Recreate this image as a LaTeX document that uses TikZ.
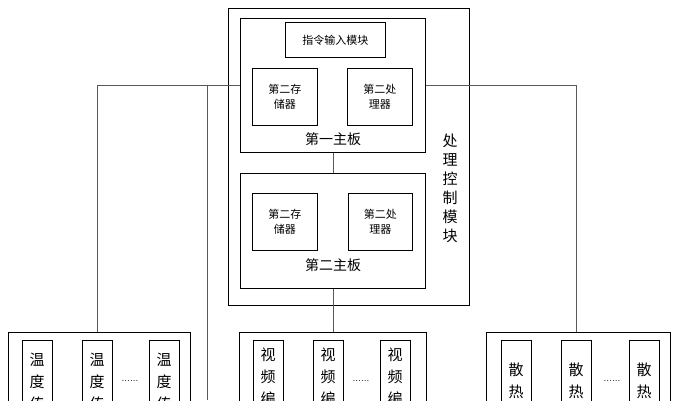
\documentclass[tikz,border=0pt]{standalone}
\usepackage{fontspec}
\newfontfamily\cjk{Noto Sans CJK SC}
\usetikzlibrary{positioning}
\begin{document}
\begin{tikzpicture}[x=1pt,y=-1pt,font=\cjk,
    unit/.style={draw,thick,inner sep=0pt,anchor=north west},
    frame/.style={draw,thick,anchor=north west},
    link/.style={draw,gray!70!black,line width=0.5pt}]
    \useasboundingbox (0,0) rectangle (673,400);
    \clip (0,0) rectangle (673,400);
    % Processing control module
    \node (ctrl)[frame,minimum width=241pt,minimum height=297pt] at (228,8) {};
    \node (boardA)[frame,minimum width=185pt,minimum height=134pt] at (240,18) {};
    \node (boardB)[frame,minimum width=185pt,minimum height=115pt] at (240,173) {};
    \node (cmd)[unit,minimum width=100pt,minimum height=35pt,font=\cjk\fontsize{11}{13}\selectfont] at (285,22) {指令输入模块};
    \node (memA)[unit,minimum width=65pt,minimum height=57pt,align=center,font=\cjk\fontsize{11}{15}\selectfont] at (252,68) {第二存\\储器};
    \node (cpuA)[unit,minimum width=65pt,minimum height=57pt,align=center,font=\cjk\fontsize{11}{15}\selectfont] at (347,68) {第二处\\理器};
    \node (memB)[unit,minimum width=65pt,minimum height=57pt,align=center,font=\cjk\fontsize{11}{15}\selectfont] at (252,193) {第二存\\储器};
    \node (cpuB)[unit,minimum width=64pt,minimum height=57pt,align=center,font=\cjk\fontsize{11}{15}\selectfont] at (348,193) {第二处\\理器};
    \node (nameA)[font=\cjk\fontsize{14}{16}\selectfont] at (333,139) {第一主板};
    \node (nameB)[font=\cjk\fontsize{14}{16}\selectfont] at (333,265) {第二主板};
    \node (ctrlname)[align=center,font=\cjk\fontsize{15}{19}\selectfont] at (450,188) {处\\理\\控\\制\\模\\块};

    % Peripheral groups
    \node (tempgrp)[frame,minimum width=182pt,minimum height=120pt] at (8,332) {};
    \node (videogrp)[frame,minimum width=187pt,minimum height=120pt] at (239,332) {};
    \node (fangrp)[frame,minimum width=184pt,minimum height=120pt] at (486,332) {};
    \foreach \x [count=\i] in {22,82,149,253,313,380,501,561,629}
        \node (dev\i)[unit,minimum width=30pt,minimum height=110pt] at (\x,340) {};
    \foreach \x in {37,97,164}
        \node[anchor=north,align=center,font=\cjk\fontsize{15}{22}\selectfont] at (\x,350) {温\\度\\传};
    \foreach \x in {268,328,395}
        \node[anchor=north,align=center,font=\cjk\fontsize{15}{22}\selectfont] at (\x,344) {视\\频\\编};
    \foreach \x in {516,576,644}
        \node[anchor=north,align=center,font=\cjk\fontsize{15}{22}\selectfont] at (\x,350) {\\散\\热};
    \foreach \x in {130,361,612}
        \node[font=\fontsize{10}{12}\selectfont] at (\x,381) {......};

    % Connections
    \coordinate (left) at (97,85);
    \coordinate (right) at (576,85);
    \coordinate (mid) at (207,85);
    \draw[link] (boardA.west |- left) -- (left) -- (left |- tempgrp.north);
    \draw[link] (boardA.east |- right) -- (right) -- (right |- fangrp.north);
    \draw[link] (mid) -- (207,400);
    \draw[link] (boardA.south) -- (boardB.north);
    \draw[link] (boardB.south) -- (videogrp.north -| boardB.south);
\end{tikzpicture}
\end{document}
